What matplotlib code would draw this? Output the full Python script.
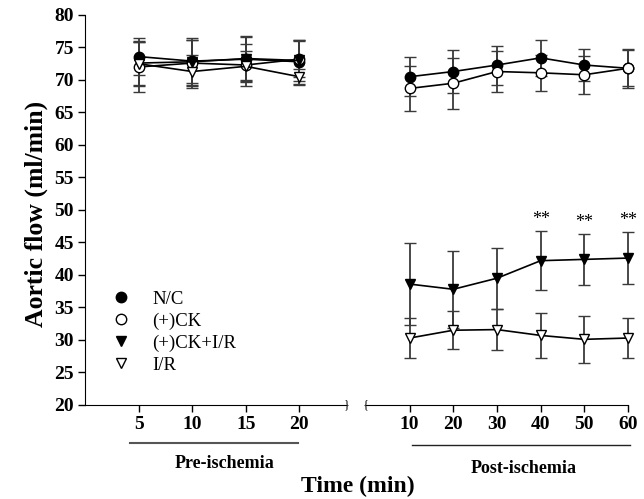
import matplotlib.pyplot as plt
from matplotlib.lines import Line2D
from matplotlib.transforms import blended_transform_factory

plt.rcParams['font.family'] = ['Liberation Serif', 'DejaVu Serif']

# pre-ischemia (min) and post-ischemia (min)
pre_t = [5, 10, 15, 20]
post_t = [10, 20, 30, 40, 50, 60]

labels = ['N/C', '(+)CK', '(+)CK+I/R', 'I/R']

pre_mean = {
    'N/C':       [73.6, 72.9, 73.2, 72.8],
    '(+)CK':     [72.0, 72.6, 72.3, 73.2],
    '(+)CK+I/R': [72.6, 72.8, 73.3, 73.0],
    'I/R':       [72.5, 71.3, 72.1, 70.5],
}
pre_err = {
    'N/C':       [2.8, 3.3, 3.5, 3.4],
    '(+)CK':     [3.8, 3.6, 3.2, 2.8],
    '(+)CK+I/R': [3.4, 3.6, 3.3, 3.2],
    'I/R':       [3.4, 2.5, 2.3, 1.2],
}
post_mean = {
    'N/C':       [70.5, 71.3, 72.3, 73.4, 72.3, 71.8],
    '(+)CK':     [68.7, 69.5, 71.3, 71.1, 70.8, 71.8],
    '(+)CK+I/R': [38.6, 37.8, 39.5, 42.2, 42.4, 42.6],
    'I/R':       [30.3, 31.5, 31.6, 30.7, 30.1, 30.3],
}
post_err = {
    'N/C':       [3.0, 3.3, 3.0, 2.8, 2.5, 3.0],
    '(+)CK':     [3.5, 3.9, 3.2, 2.8, 2.9, 2.8],
    '(+)CK+I/R': [6.3, 5.9, 4.7, 4.5, 3.9, 4.0],
    'I/R':       [3.1, 2.9, 3.1, 3.5, 3.6, 3.1],
}
sig_t = [40, 50, 60]

styles = {
    'N/C':       dict(marker='o', mfc='black'),
    '(+)CK':     dict(marker='o', mfc='white'),
    '(+)CK+I/R': dict(marker='v', mfc='black'),
    'I/R':       dict(marker='v', mfc='white'),
}

fig = plt.figure(figsize=(6.44, 4.99), dpi=100)
ax1 = fig.add_axes([0.132, 0.1884, 0.406, 0.7816])
ax2 = fig.add_axes([0.5683, 0.1884, 0.4068, 0.7816])

for ax, t, mean, err in [(ax1, pre_t, pre_mean, pre_err), (ax2, post_t, post_mean, post_err)]:
    for name in labels:
        ax.errorbar(t, mean[name], yerr=err[name], color='black', ecolor='#3a3a3a',
                    elinewidth=1.3, capsize=4.3, capthick=1.3, lw=1.2,
                    marker=styles[name]['marker'], mfc=styles[name]['mfc'], mec='black',
                    ms=7.5, mew=1.0, clip_on=False)

for ax in (ax1, ax2):
    ax.set_ylim(20, 80)
    ax.spines['top'].set_visible(False)
    ax.spines['right'].set_visible(False)
    ax.tick_params(direction='out', length=5, width=1, labelsize=14, pad=3)

ax1.set_xlim(0, 24.4)
ax1.set_xticks(pre_t)
ax1.set_yticks(range(20, 81, 5))
ax1.set_ylabel('Aortic flow (ml/min)', fontsize=18.5, fontweight='bold')
ax1.yaxis.set_label_coords(-0.143, 0.49)

ax2.set_xlim(0, 60)
ax2.set_xticks(post_t)
ax2.spines['left'].set_visible(False)
ax2.tick_params(axis='y', left=False, labelleft=False)
for ax in (ax1, ax2):
    for lab in ax.get_xticklabels() + ax.get_yticklabels():
        lab.set_fontweight('bold')

# significance marks
for t in sig_t:
    i = post_t.index(t)
    y = post_mean['(+)CK+I/R'][i] + post_err['(+)CK+I/R'][i] + 0.5
    ax2.text(t, y, '**', ha='center', va='bottom', fontsize=13)

# axis break marks
ax1.text(1.0, 0.0, '}', transform=ax1.transAxes, ha='center', va='center',
         fontsize=9, clip_on=False)
ax2.text(0.0, 0.0, '{', transform=ax2.transAxes, ha='center', va='center',
         fontsize=9, clip_on=False)

# legend (markers only)
handles = [Line2D([], [], ls='none', marker=styles[n]['marker'], mfc=styles[n]['mfc'],
                  mec='black', ms=7.5, mew=1.0) for n in labels]
ax1.legend(handles, labels, loc='lower left', bbox_to_anchor=(0.1, 0.08), frameon=False,
           fontsize=13.5, handlelength=1.0, handletextpad=1.2, labelspacing=0.25,
           borderaxespad=0, borderpad=0)

# period lines and labels
tr1 = blended_transform_factory(ax1.transData, fig.transFigure)
tr2 = blended_transform_factory(ax2.transData, fig.transFigure)
ax1.plot([4.2, 19.9], [0.112, 0.112], color='#555555', lw=1.5, transform=tr1, clip_on=False)
ax2.plot([10.5, 60.5], [0.108, 0.108], color='#222222', lw=1.0, transform=tr2, clip_on=False)
ax1.text(13.0, 0.072, 'Pre-ischemia', transform=tr1, ha='center', va='center',
         fontsize=13, fontweight='bold')
ax2.text(36, 0.062, 'Post-ischemia', transform=tr2, ha='center', va='center',
         fontsize=13, fontweight='bold')
fig.text(0.555, 0.025, 'Time (min)', ha='center', va='center', fontsize=17, fontweight='bold')

fig.savefig('out.png', dpi=100)
